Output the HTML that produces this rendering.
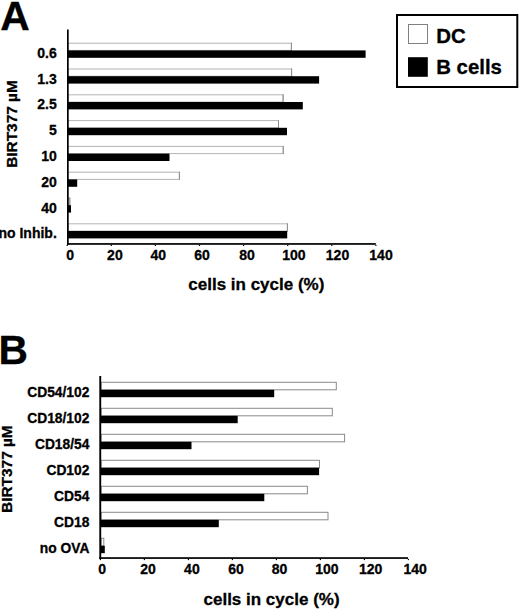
<!DOCTYPE html>
<html><head><meta charset="utf-8"><title>BIRT377 cell cycle</title>
<style>
html,body{margin:0;padding:0;background:#fff;}
body{width:520px;height:611px;overflow:hidden;}
svg{display:block;}
svg text{font-family:"Liberation Sans", sans-serif;font-weight:bold;fill:#000;stroke:#000;stroke-width:0.3px;}
</style></head>
<body>
<svg width="520" height="611" viewBox="0 0 520 611">
<text x="0.3" y="29.6" font-size="40.8">A</text>
<rect x="68" y="43.2" width="223.4" height="7.2" fill="#fff" stroke="#b4b4b4" stroke-width="1"/>
<rect x="290.9" y="42.7" width="1" height="8.2" fill="#8c8c8c"/>
<rect x="67" y="50.4" width="298.6" height="7.4" fill="#000"/>
<rect x="68" y="69" width="223.6" height="7.2" fill="#fff" stroke="#b4b4b4" stroke-width="1"/>
<rect x="291.1" y="68.5" width="1" height="8.2" fill="#8c8c8c"/>
<rect x="67" y="76.2" width="252.1" height="7.4" fill="#000"/>
<rect x="68" y="94.8" width="215.1" height="7.2" fill="#fff" stroke="#b4b4b4" stroke-width="1"/>
<rect x="282.6" y="94.3" width="1" height="8.2" fill="#8c8c8c"/>
<rect x="67" y="102" width="235.8" height="7.4" fill="#000"/>
<rect x="68" y="120.6" width="210.5" height="7.2" fill="#fff" stroke="#b4b4b4" stroke-width="1"/>
<rect x="278" y="120.1" width="1" height="8.2" fill="#8c8c8c"/>
<rect x="67" y="127.8" width="220" height="7.4" fill="#000"/>
<rect x="68" y="146.4" width="215.2" height="7.2" fill="#fff" stroke="#b4b4b4" stroke-width="1"/>
<rect x="282.7" y="145.9" width="1" height="8.2" fill="#8c8c8c"/>
<rect x="67" y="153.6" width="102.5" height="7.4" fill="#000"/>
<rect x="68" y="172.2" width="111.4" height="7.2" fill="#fff" stroke="#b4b4b4" stroke-width="1"/>
<rect x="178.9" y="171.7" width="1" height="8.2" fill="#8c8c8c"/>
<rect x="67" y="179.4" width="10.2" height="7.4" fill="#000"/>
<rect x="68" y="198" width="1.8" height="7.2" fill="#fff" stroke="#b4b4b4" stroke-width="1"/>
<rect x="69.3" y="197.5" width="1" height="8.2" fill="#8c8c8c"/>
<rect x="67" y="205.2" width="4" height="7.4" fill="#000"/>
<rect x="68" y="223.8" width="219.4" height="7.2" fill="#fff" stroke="#b4b4b4" stroke-width="1"/>
<rect x="286.9" y="223.3" width="1" height="8.2" fill="#8c8c8c"/>
<rect x="67" y="231" width="220.2" height="7.4" fill="#000"/>
<rect x="67" y="29.5" width="1.7" height="215.3" fill="#000"/>
<rect x="67" y="243.1" width="308.8" height="1.7" fill="#000"/>
<rect x="66.6" y="244.8" width="1.2" height="1.2" fill="#000"/>
<rect x="110.7" y="244.8" width="1.2" height="1.2" fill="#000"/>
<rect x="154.8" y="244.8" width="1.2" height="1.2" fill="#000"/>
<rect x="198.9" y="244.8" width="1.2" height="1.2" fill="#000"/>
<rect x="243" y="244.8" width="1.2" height="1.2" fill="#000"/>
<rect x="287.1" y="244.8" width="1.2" height="1.2" fill="#000"/>
<rect x="331.2" y="244.8" width="1.2" height="1.2" fill="#000"/>
<rect x="375.3" y="244.8" width="1.2" height="1.2" fill="#000"/>
<text x="56.8" y="57.7" font-size="14" text-anchor="end">0.6</text>
<text x="56.8" y="83.5" font-size="14" text-anchor="end">1.3</text>
<text x="56.8" y="109.3" font-size="14" text-anchor="end">2.5</text>
<text x="56.8" y="135.1" font-size="14" text-anchor="end">5</text>
<text x="56.8" y="160.9" font-size="14" text-anchor="end">10</text>
<text x="56.8" y="186.7" font-size="14" text-anchor="end">20</text>
<text x="56.8" y="212.5" font-size="14" text-anchor="end">40</text>
<text x="56.8" y="238.3" font-size="14" text-anchor="end">no Inhib.</text>
<text x="70.1" y="260.4" font-size="14" text-anchor="middle">0</text>
<text x="114.9" y="260.4" font-size="14" text-anchor="middle">20</text>
<text x="158.3" y="260.4" font-size="14" text-anchor="middle">40</text>
<text x="202" y="260.4" font-size="14" text-anchor="middle">60</text>
<text x="247" y="260.4" font-size="14" text-anchor="middle">80</text>
<text x="293.9" y="260.4" font-size="14" text-anchor="middle">100</text>
<text x="337.5" y="260.4" font-size="14" text-anchor="middle">120</text>
<text x="381" y="260.4" font-size="14" text-anchor="middle">140</text>
<text x="188.3" y="289.6" font-size="17">cells in cycle (%)</text>
<text transform="translate(17.4,166.8) rotate(-90)" x="-1" y="0" font-size="15.4">BIRT377 &#181;M</text>
<text x="-1.6" y="364.2" font-size="40.8">B</text>
<rect x="101.2" y="382.3" width="235.1" height="7.5" fill="#fff" stroke="#8a8a8a" stroke-width="1"/>
<rect x="100.2" y="389.8" width="174" height="7.4" fill="#000"/>
<rect x="101.2" y="408.3" width="231.1" height="7.5" fill="#fff" stroke="#8a8a8a" stroke-width="1"/>
<rect x="100.2" y="415.8" width="137.5" height="7.4" fill="#000"/>
<rect x="101.2" y="434.3" width="243.4" height="7.5" fill="#fff" stroke="#8a8a8a" stroke-width="1"/>
<rect x="100.2" y="441.8" width="91.3" height="7.4" fill="#000"/>
<rect x="101.2" y="460.3" width="218.3" height="7.5" fill="#fff" stroke="#8a8a8a" stroke-width="1"/>
<rect x="100.2" y="467.8" width="218.9" height="7.4" fill="#000"/>
<rect x="101.2" y="486.3" width="206.2" height="7.5" fill="#fff" stroke="#8a8a8a" stroke-width="1"/>
<rect x="100.2" y="493.8" width="164.1" height="7.4" fill="#000"/>
<rect x="101.2" y="512.3" width="226.8" height="7.5" fill="#fff" stroke="#8a8a8a" stroke-width="1"/>
<rect x="100.2" y="519.8" width="118.6" height="7.4" fill="#000"/>
<rect x="101.2" y="538.3" width="2.6" height="7.5" fill="#fff" stroke="#8a8a8a" stroke-width="1"/>
<rect x="100.2" y="545.8" width="4.6" height="7.4" fill="#000"/>
<rect x="99.3" y="376" width="1.9" height="182.9" fill="#000"/>
<rect x="99.3" y="557.2" width="308.7" height="1.7" fill="#000"/>
<rect x="99.8" y="558.9" width="1.2" height="1.2" fill="#000"/>
<rect x="143.8" y="558.9" width="1.2" height="1.2" fill="#000"/>
<rect x="187.8" y="558.9" width="1.2" height="1.2" fill="#000"/>
<rect x="231.8" y="558.9" width="1.2" height="1.2" fill="#000"/>
<rect x="275.8" y="558.9" width="1.2" height="1.2" fill="#000"/>
<rect x="319.8" y="558.9" width="1.2" height="1.2" fill="#000"/>
<rect x="363.8" y="558.9" width="1.2" height="1.2" fill="#000"/>
<rect x="407.8" y="558.9" width="1.2" height="1.2" fill="#000"/>
<text x="89.4" y="397.1" font-size="13.8" text-anchor="end">CD54/102</text>
<text x="89.4" y="423" font-size="13.8" text-anchor="end">CD18/102</text>
<text x="89.4" y="448.9" font-size="13.8" text-anchor="end">CD18/54</text>
<text x="89.4" y="474.8" font-size="13.8" text-anchor="end">CD102</text>
<text x="89.4" y="500.7" font-size="13.8" text-anchor="end">CD54</text>
<text x="89.4" y="526.6" font-size="13.8" text-anchor="end">CD18</text>
<text x="89.4" y="552.5" font-size="13.8" text-anchor="end">no OVA</text>
<text x="102.2" y="574.1" font-size="14" text-anchor="middle">0</text>
<text x="148" y="574.1" font-size="14" text-anchor="middle">20</text>
<text x="191.9" y="574.1" font-size="14" text-anchor="middle">40</text>
<text x="236.1" y="574.1" font-size="14" text-anchor="middle">60</text>
<text x="279.6" y="574.1" font-size="14" text-anchor="middle">80</text>
<text x="326.9" y="574.1" font-size="14" text-anchor="middle">100</text>
<text x="370.6" y="574.1" font-size="14" text-anchor="middle">120</text>
<text x="415.2" y="574.1" font-size="14" text-anchor="middle">140</text>
<text x="203.5" y="604.8" font-size="17">cells in cycle (%)</text>
<text transform="translate(12.1,511.9) rotate(-90)" x="-1" y="0" font-size="15.4">BIRT377 &#181;M</text>
<rect x="397" y="15" width="120.3" height="72" fill="#fff" stroke="#000" stroke-width="2"/>
<rect x="408.5" y="24.5" width="19" height="19" fill="#fff" stroke="#808080" stroke-width="1"/>
<rect x="408" y="57.2" width="19.8" height="19.6" fill="#000"/>
<text x="436.2" y="43.4" font-size="20.4">DC</text>
<text x="436.2" y="73.6" font-size="20.4">B cells</text>
</svg>
</body></html>
